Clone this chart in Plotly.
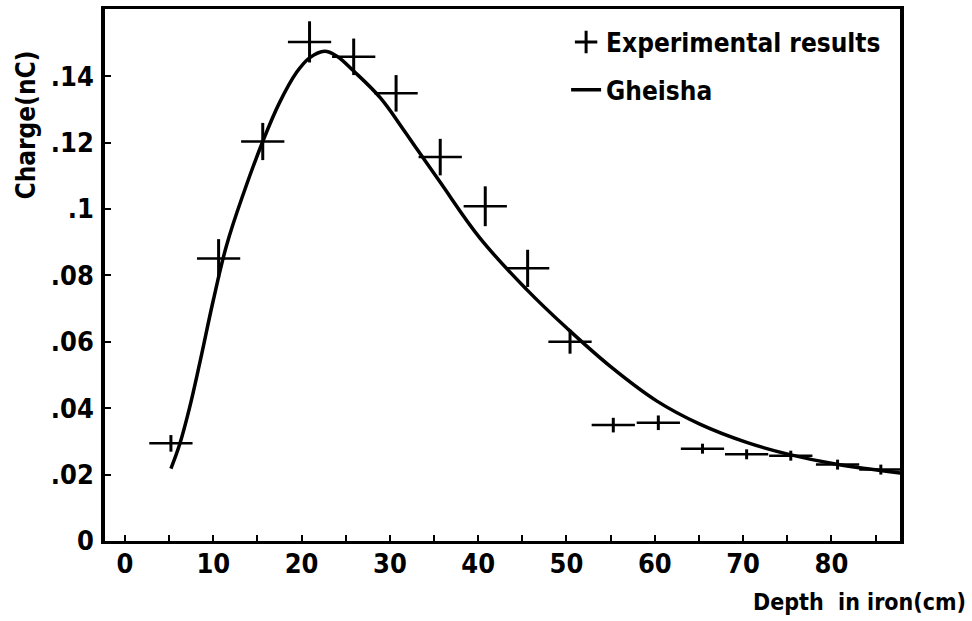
import plotly.graph_objects as go

# Experimental results (depth in cm, charge in nC)
exp_depth = [5.2, 10.6, 15.6, 20.9, 25.9, 30.7, 35.7, 40.8, 45.6, 50.4, 55.3, 60.4, 65.4, 70.4, 75.4, 80.7, 85.6]
exp_charge = [0.0294, 0.0851, 0.1203, 0.1503, 0.1458, 0.1348, 0.1156, 0.1008, 0.0821, 0.0600,
              0.0349, 0.0356, 0.0278, 0.0261, 0.0257, 0.0230, 0.0215]
exp_err_y = [0.0025, 0.0058, 0.0056, 0.0062, 0.0055, 0.0055, 0.0055, 0.0060, 0.0056, 0.0036,
             0.0022, 0.0022, 0.0015, 0.0015, 0.0015, 0.0015, 0.0015]
exp_err_x = [2.45] * len(exp_depth)

# Gheisha simulation curve
gheisha_depth = [5.2, 6.2, 7.3, 8.5, 10.0, 11.5, 13.4, 15.6, 17.5, 19.4, 20.9, 22.6, 24.0, 25.9,
                 28.9, 31.5, 33.2, 35.7, 40.2, 45.5, 50.0, 55.0, 60.2, 65.1, 70.4, 75.3, 80.6, 87.8]
gheisha_charge = [0.0218, 0.0292, 0.0400, 0.0540, 0.0725, 0.0890, 0.1045, 0.1203, 0.1320, 0.1410,
                  0.1455, 0.1475, 0.1460, 0.1415, 0.1335, 0.1240, 0.1175, 0.1080, 0.0912, 0.0757,
                  0.0642, 0.0525, 0.0422, 0.0352, 0.0297, 0.0260, 0.0231, 0.0205]

x_ticks = [0, 5, 10, 15, 20, 25, 30, 35, 40, 45, 50, 55, 60, 65, 70, 75, 80, 85]
x_ticktext = ["0", "", "10", "", "20", "", "30", "", "40", "", "50", "", "60", "", "70", "", "80", ""]
y_ticks = [0, 0.02, 0.04, 0.06, 0.08, 0.10, 0.12, 0.14]
y_ticktext = ["0", ".02", ".04", ".06", ".08", ".1", ".12", ".14"]

FONT = "DejaVu Sans Condensed, DejaVu Sans, sans-serif"

fig = go.Figure()

fig.add_trace(go.Scatter(
    x=exp_depth, y=exp_charge, mode="markers",
    marker=dict(size=1, color="black"),
    error_y=dict(type="data", array=exp_err_y, thickness=3, width=0, color="black"),
    error_x=dict(type="data", array=exp_err_x, thickness=2.5, width=0, color="black"),
    showlegend=False, name="Experimental results",
))

# legend entry for experimental results
fig.add_trace(go.Scatter(
    x=[None], y=[None], mode="markers", name="Experimental results",
    marker=dict(symbol="cross-thin", size=16, color="black", line=dict(width=3, color="black")),
    legendgroup="a",
))

fig.add_trace(go.Scatter(
    x=gheisha_depth, y=gheisha_charge, mode="lines", name="Gheisha",
    line=dict(color="black", width=3.5, shape="spline", smoothing=1.1),
    legendgroup="b",
))

fig.update_layout(
    width=972, height=621,
    margin=dict(l=105, r=72, t=6, b=80),
    paper_bgcolor="white", plot_bgcolor="white",
    font=dict(family=FONT, color="black", size=24, weight="bold"),
    showlegend=True,
    legend=dict(x=0.58, y=0.982, xanchor="left", yanchor="top",
                bgcolor="rgba(0,0,0,0)", font=dict(family=FONT, size=26, weight="bold"),
                tracegroupgap=11),
    xaxis=dict(range=[-2.265, 87.77], tickvals=x_ticks, ticktext=x_ticktext,
               ticks="inside", ticklen=6, tickwidth=2, tickcolor="black",
               showline=True, linewidth=3, linecolor="black", mirror=True,
               showgrid=False, zeroline=False,
               tickfont=dict(family=FONT, size=27, weight="bold"), ticklabelstandoff=-3),
    yaxis=dict(range=[0, 0.1602], tickvals=y_ticks, ticktext=y_ticktext,
               ticks="inside", ticklen=6, tickwidth=2, tickcolor="black",
               showline=True, linewidth=3.5, linecolor="black", mirror=True,
               showgrid=False, zeroline=False,
               tickfont=dict(family=FONT, size=27, weight="bold"), ticklabelstandoff=2),
    annotations=[
        dict(text="Depth  in iron(cm)", xref="paper", yref="paper", x=1.085, y=-0.086,
             xanchor="right", yanchor="top", showarrow=False,
             font=dict(family=FONT, size=23, weight="bold")),
        dict(text="Charge(nC)", xref="paper", yref="paper", x=-0.1006, y=0.781,
             xanchor="center", yanchor="middle", textangle=-90, showarrow=False,
             font=dict(family=FONT, size=26, weight="bold")),
    ],
)

fig.write_html("out.html")
